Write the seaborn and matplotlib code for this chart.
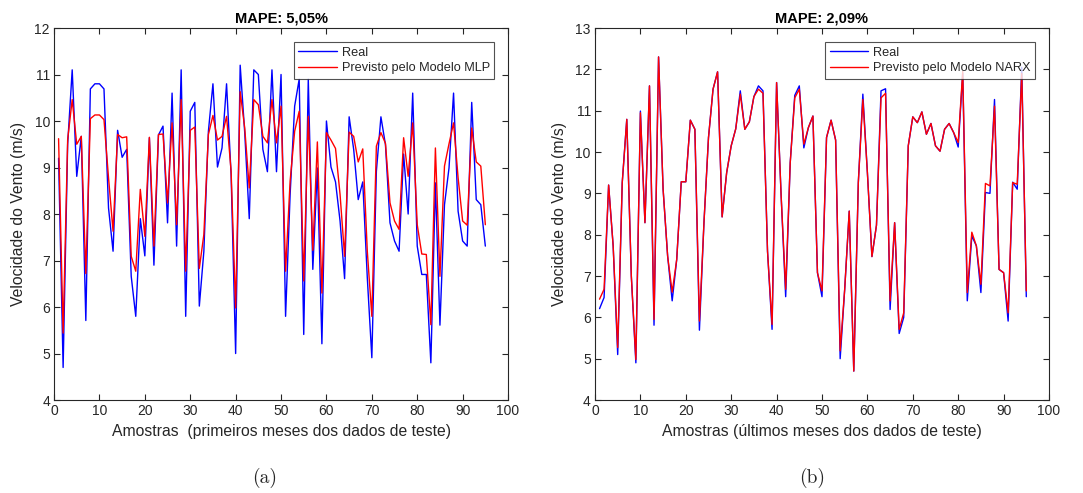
import numpy as np
import pandas as pd
import matplotlib
matplotlib.use("Agg")
import matplotlib.pyplot as plt
import seaborn as sns

# ---------------- data ----------------
amostras = list(range(1, 96))

real_mlp = [9.2, 4.7, 9.5, 11.1, 8.81, 9.67, 5.71, 10.69, 10.8, 10.8,
            10.69, 8.13, 7.2, 9.8, 9.22, 9.39, 6.66, 5.8, 7.9, 7.1,
            9.64, 6.9, 9.7, 9.89, 7.81, 10.6, 7.31, 11.1, 5.8, 10.21,
            10.4, 6.02, 7.2, 9.78, 10.8, 9.01, 9.42, 10.8, 8.85, 5.0,
            11.2, 9.75, 7.9, 11.1, 11.0, 9.39, 8.91, 11.1, 8.91, 11.0,
            5.8, 8.42, 10.32, 10.9, 5.41, 10.9, 6.81, 8.99, 5.21, 10.0,
            9.01, 8.69, 7.85, 6.61, 10.09, 9.39, 8.31, 8.69, 6.63, 4.91,
            8.92, 10.09, 9.49, 7.81, 7.42, 7.2, 9.29, 8.0, 10.6, 7.31,
            6.7, 6.7, 4.8, 8.67, 5.61, 8.2, 8.99, 10.6, 8.06, 7.42,
            7.31, 10.4, 8.31, 8.2, 7.31]

prev_mlp = [9.62, 5.44, 9.6, 10.46, 9.5, 9.67, 6.72, 10.05, 10.13, 10.13,
            10.03, 8.78, 7.63, 9.71, 9.64, 9.66, 7.09, 6.77, 8.53, 7.52,
            9.65, 7.31, 9.71, 9.72, 8.24, 9.96, 7.77, 10.46, 6.77, 9.8,
            9.87, 6.83, 7.56, 9.71, 10.12, 9.59, 9.67, 10.1, 8.92, 5.98,
            10.63, 9.85, 8.56, 10.46, 10.35, 9.67, 9.53, 10.46, 9.53, 10.32,
            6.77, 8.71, 9.78, 10.21, 6.56, 10.1, 7.22, 9.55, 6.3, 9.75,
            9.59, 9.41, 8.42, 7.09, 9.76, 9.67, 9.12, 9.4, 7.2, 5.8,
            9.46, 9.75, 9.52, 8.24, 7.85, 7.67, 9.64, 8.81, 9.96, 7.77,
            7.14, 7.13, 5.62, 9.42, 6.66, 9.03, 9.51, 9.96, 8.78, 7.85,
            7.76, 9.85, 9.12, 9.03, 7.77]

real_narx = [6.21, 6.48, 9.2, 7.73, 5.1, 9.26, 10.79, 7.0, 4.9, 10.99,
             8.29, 11.6, 5.81, 12.3, 9.1, 7.48, 6.4, 7.4, 9.28, 9.28,
             10.77, 10.55, 5.69, 8.29, 10.35, 11.52, 11.94, 8.43, 9.5, 10.15,
             10.56, 11.48, 10.55, 10.73, 11.34, 11.6, 11.48, 7.6, 5.71, 11.68,
             8.94, 6.5, 9.74, 11.37, 11.6, 10.1, 10.59, 10.87, 7.08, 6.5,
             10.35, 10.77, 10.29, 5.0, 6.68, 8.57, 4.7, 9.26, 11.4, 9.5,
             7.47, 8.23, 11.48, 11.53, 6.19, 8.29, 5.61, 6.0, 10.15, 10.85,
             10.71, 10.97, 10.43, 10.69, 10.15, 10.02, 10.55, 10.69, 10.47, 10.12,
             11.9, 6.4, 7.97, 7.73, 6.6, 9.02, 9.0, 11.27, 7.16, 7.08,
             5.91, 9.27, 9.1, 12.05, 6.5]

prev_narx = [6.44, 6.68, 9.2, 7.73, 5.27, 9.26, 10.79, 7.0, 4.98, 10.95,
             8.29, 11.6, 5.95, 12.3, 9.1, 7.48, 6.61, 7.4, 9.28, 9.28,
             10.77, 10.55, 5.91, 8.29, 10.35, 11.52, 11.94, 8.43, 9.5, 10.15,
             10.56, 11.4, 10.55, 10.73, 11.34, 11.52, 11.42, 7.6, 5.83, 11.68,
             8.94, 6.68, 9.74, 11.31, 11.52, 10.19, 10.59, 10.87, 7.08, 6.64,
             10.35, 10.77, 10.29, 5.19, 6.68, 8.57, 4.7, 9.26, 11.27, 9.5,
             7.47, 8.23, 11.31, 11.42, 6.4, 8.29, 5.71, 6.11, 10.15, 10.85,
             10.71, 10.97, 10.43, 10.69, 10.15, 10.02, 10.55, 10.69, 10.47, 10.23,
             11.95, 6.6, 8.06, 7.73, 6.8, 9.24, 9.18, 11.11, 7.16, 7.08,
             6.11, 9.26, 9.22, 11.9, 6.64]

titles = ["MAPE: 5,05%", "MAPE: 2,09%"]
xlabels = ["Amostras  (primeiros meses dos dados de teste)",
           "Amostras (últimos meses dos dados de teste)"]
ylabel = "Velocidade do Vento (m/s)"
legend_pred = ["Previsto pelo Modelo MLP", "Previsto pelo Modelo NARX"]
captions = ["(a)", "(b)"]
xticks = [0, 10, 20, 30, 40, 50, 60, 70, 80, 90, 100]
yticks_a = [4, 5, 6, 7, 8, 9, 10, 11, 12]
yticks_b = [4, 5, 6, 7, 8, 9, 10, 11, 12, 13]

# ---------------- style ----------------
sns.set_theme(style="white")
plt.rcParams["font.family"] = ["Liberation Sans", "DejaVu Sans"]
dark = (0.15, 0.15, 0.15)

fig = plt.figure(figsize=(10.83, 4.93), dpi=100)
ax_a = fig.add_axes([0.0499, 0.1886, 0.4192, 0.7546])
ax_b = fig.add_axes([0.5494, 0.1886, 0.4192, 0.7546])

panels = [
    (ax_a, real_mlp, prev_mlp, yticks_a),
    (ax_b, real_narx, prev_narx, yticks_b),
]

for k, (ax, real, prev, yt) in enumerate(panels):
    df = pd.DataFrame({"Amostra": amostras, "Real": real, "Previsto": prev})
    sns.lineplot(data=df, x="Amostra", y="Real", color="blue", lw=1.0,
                 label="Real", ax=ax)
    sns.lineplot(data=df, x="Amostra", y="Previsto", color="red", lw=1.0,
                 label=legend_pred[k], ax=ax)
    ax.set_xlim(0, 100)
    ax.set_ylim(yt[0], yt[-1])
    ax.set_xticks(xticks)
    ax.set_yticks(yt)
    ax.tick_params(direction="in", length=4, width=0.8, top=True, right=True,
                   bottom=True, left=True, labelsize=10, colors=dark,
                   pad=3)
    for s in ax.spines.values():
        s.set_color(dark)
        s.set_linewidth(0.8)
        s.set_visible(True)
    ax.set_title(titles[k], fontsize=10.5, fontweight="bold", color="black", pad=4)
    ax.set_xlabel(xlabels[k], fontsize=11.3, color=dark, labelpad=4)
    ax.set_ylabel(ylabel, fontsize=11.3, color=dark, labelpad=6)
    leg = ax.legend(loc="upper right", bbox_to_anchor=(0.97, 0.962),
                    borderaxespad=0, fontsize=9.2, frameon=True, fancybox=False,
                    handlelength=3.0, handletextpad=0.4, borderpad=0.35,
                    labelspacing=0.3)
    leg.get_frame().set_edgecolor(dark)
    leg.get_frame().set_linewidth(0.8)
    for t in leg.get_texts():
        t.set_color(dark)

fig.text(265 / 1083, 1 - 478 / 493, captions[0], ha="center", va="center",
         fontsize=14, family="cmr10")
fig.text(812 / 1083, 1 - 478 / 493, captions[1], ha="center", va="center",
         fontsize=14, family="cmr10")

fig.savefig("out.png", dpi=100, facecolor="white")
